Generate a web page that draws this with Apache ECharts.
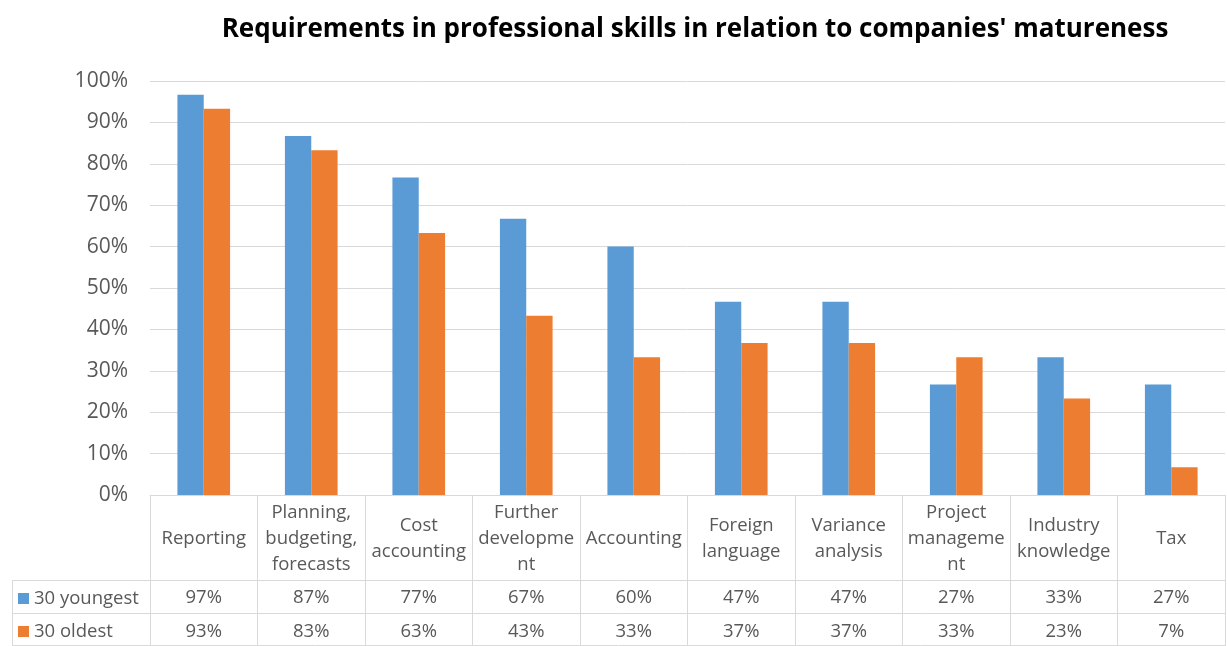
<!DOCTYPE html>
<html>
<head>
<meta charset="utf-8">
<script src="https://cdn.jsdelivr.net/npm/echarts@6/dist/echarts.min.js"></script>
<style>
  html, body { margin: 0; padding: 0; background: #fff; }
  #chart { width: 1227px; height: 646px; }
</style>
</head>
<body>
<div id="chart"></div>
<script>
// Skill categories (line breaks as wrapped in the table header)
const categories = [
  'Reporting',
  'Planning,\nbudgeting,\nforecasts',
  'Cost\naccounting',
  'Further\ndevelopme\nnt',
  'Accounting',
  'Foreign\nlanguage',
  'Variance\nanalysis',
  'Project\nmanageme\nnt',
  'Industry\nknowledge',
  'Tax'
];
// Share of companies naming each skill (percent)
const youngest = [96.7, 86.7, 76.7, 66.7, 60.0, 46.7, 46.7, 26.7, 33.3, 26.7];
const oldest   = [93.3, 83.3, 63.3, 43.3, 33.3, 36.7, 36.7, 33.3, 23.3, 6.7];
const seriesNames = ['30 youngest', '30 oldest'];
const yTicks = { min: 0, max: 100, interval: 10 };

const BLUE = '#5B9BD5', ORANGE = '#ED7D31', TEXT = '#595959', LINE = '#D9D9D9';
const FONT = '"Open Sans", "Liberation Sans", sans-serif';
const TABLE_FONT_SIZE = 18.5;

const chart = echarts.init(document.getElementById('chart'));

const pct = v => Math.round(v) + '%';

// extra bottom axes act as the rows of the data table
function tableRowAxis(values, margin) {
  return {
    type: 'category',
    data: categories,
    position: 'bottom',
    gridIndex: 0,
    axisLine: { show: false },
    axisTick: { show: false },
    splitLine: { show: false },
    axisLabel: {
      interval: 0,
      margin: margin,
      verticalAlign: 'middle',
      color: TEXT,
      fontFamily: FONT,
      fontSize: TABLE_FONT_SIZE,
      formatter: (v, i) => pct(values[i])
    }
  };
}

const legendBase = {
  left: 18, padding: 0,
  icon: 'rect', itemWidth: 11, itemHeight: 11,
  textStyle: { color: TEXT, fontFamily: FONT, fontSize: TABLE_FONT_SIZE }
};

chart.setOption({
  animation: false,
  title: {
    text: "Requirements in professional skills in relation to companies' matureness",
    left: 690,
    textAlign: 'center',
    top: 12,
    textStyle: { fontFamily: FONT, fontWeight: 'bold', fontSize: 26, color: '#000' }
  },
  legend: [
    Object.assign({ data: [seriesNames[0]], top: 589 }, legendBase),
    Object.assign({ data: [seriesNames[1]], top: 622 }, legendBase)
  ],
  grid: { left: 150, right: 2, top: 81, bottom: 151, containLabel: false },
  xAxis: [
    {
      type: 'category',
      data: categories,
      axisLine: { lineStyle: { color: LINE, width: 1 } },
      axisTick: { show: true, length: 151, lineStyle: { color: LINE, width: 1 } },
      axisLabel: {
        interval: 0,
        margin: 44,
        verticalAlign: 'middle',
        color: TEXT,
        fontFamily: FONT,
        fontSize: TABLE_FONT_SIZE,
        lineHeight: 26
      }
    },
    tableRowAxis(youngest, 103),
    tableRowAxis(oldest, 137)
  ],
  yAxis: {
    type: 'value',
    min: yTicks.min, max: yTicks.max, interval: yTicks.interval,
    axisLine: { show: false },
    axisTick: { show: false },
    splitLine: { lineStyle: { color: LINE, width: 1 } },
    axisLabel: {
      margin: 22,
      color: TEXT,
      fontFamily: FONT,
      fontSize: 21,
      formatter: '{value}%'
    }
  },
  series: [
    {
      name: seriesNames[0], type: 'bar', data: youngest,
      barGap: 0, barCategoryGap: '51%',
      itemStyle: { color: BLUE }
    },
    {
      name: seriesNames[1], type: 'bar', data: oldest,
      itemStyle: { color: ORANGE }
    }
  ]
});

// horizontal rules of the data table and its left border
const y0 = chart.convertToPixel({ yAxisIndex: 0 }, 0);
const xRight = chart.convertToPixel({ xAxisIndex: 0 }, categories[categories.length - 1]) +
  (chart.convertToPixel({ xAxisIndex: 0 }, categories[1]) - chart.convertToPixel({ xAxisIndex: 0 }, categories[0])) / 2;
const rowTop = y0 + 85, rowMid = y0 + 118, rowBot = y0 + 151;
const lineStyle = { stroke: LINE, lineWidth: 1 };
chart.setOption({
  graphic: [
    { type: 'line', shape: { x1: 12, y1: rowTop + 0.5, x2: xRight, y2: rowTop + 0.5 }, style: lineStyle, silent: true },
    { type: 'line', shape: { x1: 12, y1: rowMid + 0.5, x2: xRight, y2: rowMid + 0.5 }, style: lineStyle, silent: true },
    { type: 'line', shape: { x1: 12, y1: rowBot - 0.5, x2: xRight, y2: rowBot - 0.5 }, style: lineStyle, silent: true },
    { type: 'line', shape: { x1: 12.5, y1: rowTop, x2: 12.5, y2: rowBot }, style: lineStyle, silent: true }
  ]
});
</script>
</body>
</html>
